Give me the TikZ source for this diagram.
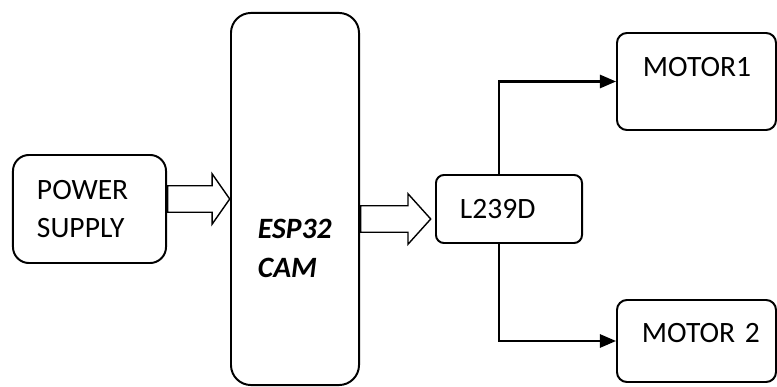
\documentclass[tikz,border=0pt]{standalone}
\usepackage{fontspec}
\setmainfont{Carlito}
\usepackage{tikz}
\usetikzlibrary{arrows.meta, positioning, shapes.arrows}

\begin{document}
\begin{tikzpicture}[
    x=0.025cm, y=-0.025cm,
    % ── Block node style ─────────────────────────────────────────────
    block/.style={
        draw, rectangle, line width=1.4pt,
        align=left, font=\fontsize{21}{27.5}\selectfont
    },
    % ── Hollow block arrows ──────────────────────────────────────────
    fatarrow/.style={
        single arrow, draw, fill=white, line width=1pt,
        inner xsep=0pt, inner ysep=0.3125cm,
        single arrow head extend=0.3cm, anchor=west
    },
    % ── Thin connectors: solid black ─────────────────────────────────
    conn/.style={line width=1.5pt, -{Triangle[length=0.4cm, width=0.33cm]}}
]

% ══════════════════════════════════════════════════════════════════════
% NODE PLACEMENT
% ══════════════════════════════════════════════════════════════════════
    \useasboundingbox (0,0) rectangle (777,387);

    \node[block, rounded corners=0.4cm, minimum width=3.825cm,
          minimum height=2.7cm, text width=2.625cm] (power) at (89.5,209)
        {POWER\\SUPPLY};

    \node[block, rounded corners=0.5cm, minimum width=3.2cm,
          minimum height=9.3cm, text width=1.85cm,
          text height=56pt, text depth=0pt] (esp) at (295,199)
        {\bfseries\itshape ESP32\\\bfseries\itshape CAM};

    \node[block, rounded corners=0.2cm, minimum width=3.65cm,
          minimum height=1.7cm, text width=2.45cm] (driver) at (509,209)
        {L239D};

    \node[block, rounded corners=0.25cm, minimum width=3.975cm,
          minimum height=2.425cm, text width=2.675cm,
          text height=13.5pt, text depth=20.6pt] (motor1) at (696.5,81.5)
        {\mbox{MOTOR1}};

    \node[block, rounded corners=0.25cm, minimum width=3.975cm,
          minimum height=2.05cm, text width=2.725cm,
          text height=13.5pt, text depth=11.4pt] (motor2) at (696.5,341)
        {\mbox{MOTOR 2}};

% ══════════════════════════════════════════════════════════════════════
% CONNECTIONS
% ══════════════════════════════════════════════════════════════════════
    \node[fatarrow, minimum height=1.55cm, single arrow tip angle=110]
        (supplyarrow) at (power.east |- esp.west) {};

    \node[fatarrow, minimum height=1.75cm, single arrow tip angle=96]
        (camarrow) at ([yshift=-0.25cm]esp.east |- driver.west) {};

    \draw[conn] ([xshift=-0.25cm]driver.north) |- (motor1.west);
    \draw[conn] ([xshift=-0.25cm]driver.south) |- (motor2.west);

\end{tikzpicture}
\end{document}
